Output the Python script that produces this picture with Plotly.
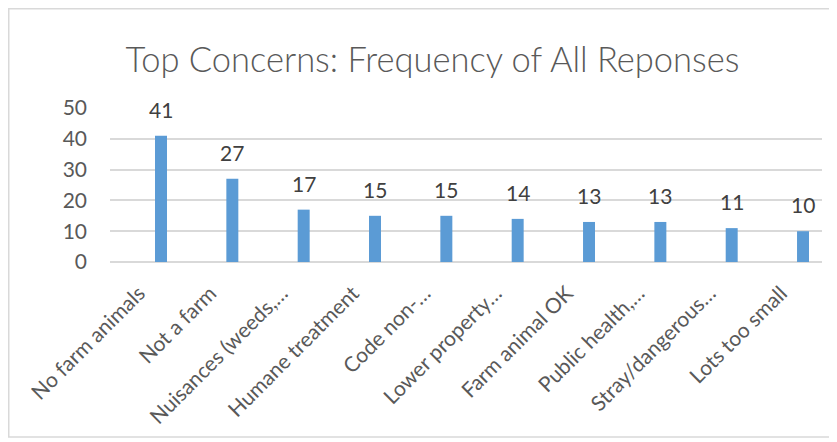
import plotly.graph_objects as go

categories = ["No farm animals", "Not a farm", "Nuisances (weeds,…", "Humane treatment",
              "Code non-…", "Lower property…", "Farm animal OK", "Public health,…",
              "Stray/dangerous…", "Lots too small"]
values = [41, 27, 17, 15, 15, 14, 13, 13, 11, 10]
y_ticks = [0, 10, 20, 30, 40, 50]

FONT = "Lato, 'Liberation Sans', sans-serif"

# page is rendered with an 8px body margin, so the figure is 8px smaller
W, H = 829, 434
L, R, T, B = 102, 15, 100, 180
pw, ph = W - L - R, H - T - B

fig = go.Figure()
fig.add_trace(go.Bar(
    x=categories, y=values,
    marker=dict(color="#5B9BD5", line=dict(width=0)),
    width=0.168,
    hoverinfo="x+y",
))

for c, v in zip(categories, values):
    fig.add_annotation(x=c, y=v, text=str(v), showarrow=False, yanchor="bottom",
                       yshift=12, font=dict(family=FONT, size=21, color="#404040"))

fig.update_layout(
    width=W, height=H,
    paper_bgcolor="white", plot_bgcolor="white",
    margin=dict(l=L, r=R, t=T, b=B, autoexpand=False),
    title=dict(text="Top Concerns: Frequency of All Reponses", x=0.512, xanchor="center",
               y=0.88, yanchor="middle",
               font=dict(family=FONT, size=34.5, color="#595959", weight=300)),
    showlegend=False,
    xaxis=dict(tickangle=-45, showgrid=False, showline=False, ticks="", automargin=False,
               range=[-0.715, 9.266], ticklabelshift=-22, ticklabelstandoff=14,
               tickfont=dict(family=FONT, size=21, color="#595959")),
    yaxis=dict(range=[0, 50], tickvals=y_ticks, showgrid=True, gridcolor="#D9D9D9",
               gridwidth=1.5, zeroline=True, zerolinecolor="#D9D9D9", zerolinewidth=1.5,
               ticks="", ticklabelstandoff=22, automargin=False,
               tickfont=dict(family=FONT, size=21, color="#595959")),
    shapes=[dict(type="rect", xref="paper", yref="paper",
                 x0=(0.75 - L) / pw, x1=(823 - L) / pw,
                 y0=(ph + T - 429) / ph, y1=(ph + T - 0.75) / ph,
                 line=dict(color="#D9D9D9", width=1.5),
                 fillcolor="rgba(0,0,0,0)", layer="below")],
)

fig.write_html("out.html")
